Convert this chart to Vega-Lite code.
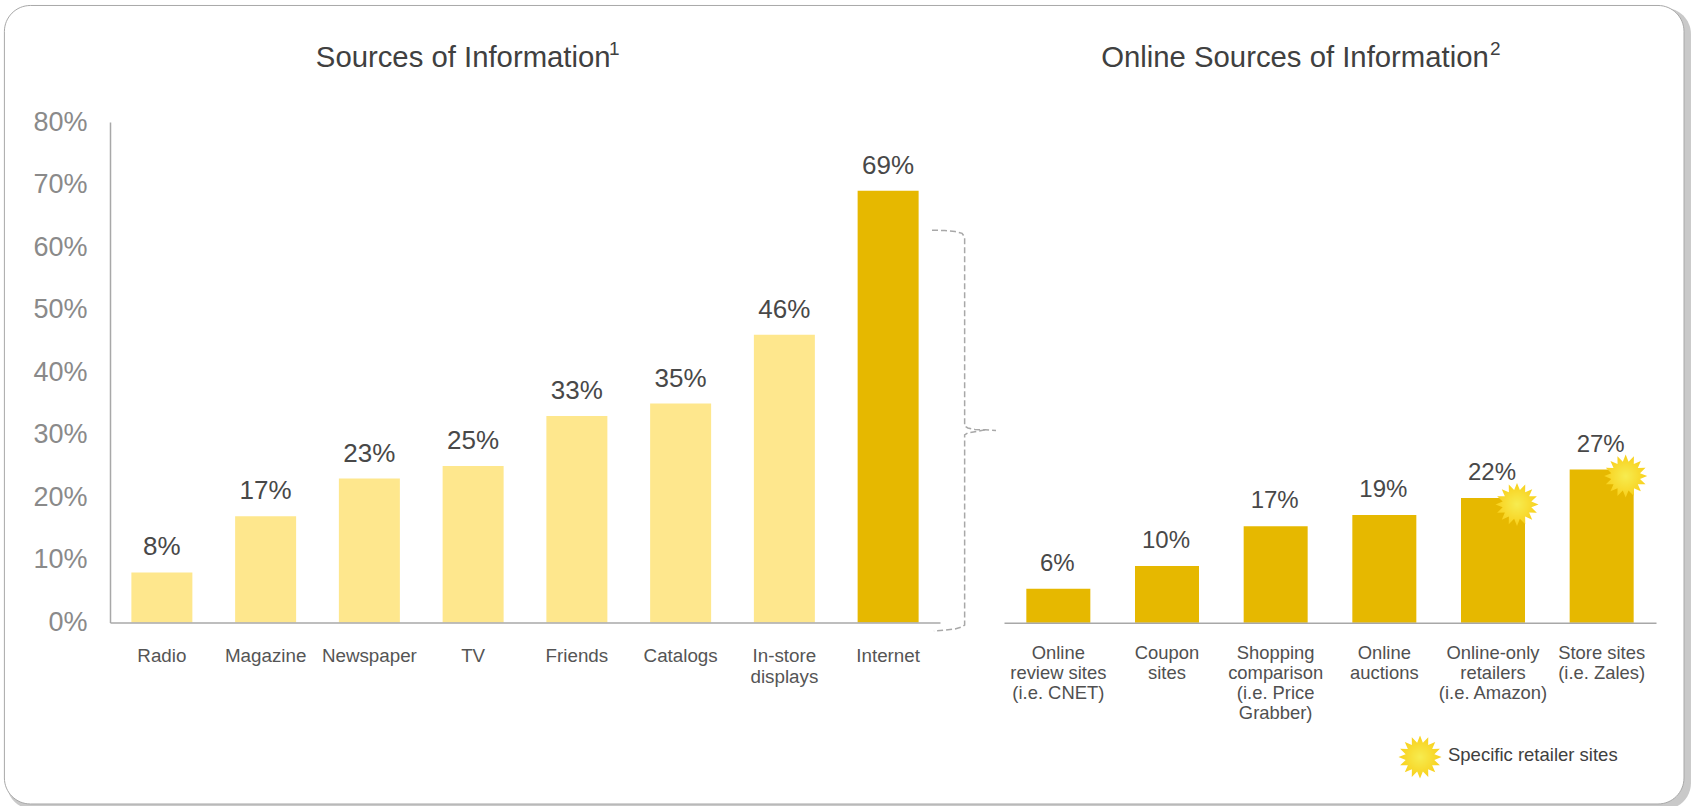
{
  "$schema": "https://vega.github.io/schema/vega-lite/v6.json",
  "width": 1694,
  "height": 806,
  "padding": 0,
  "autosize": "none",
  "background": "white",
  "config": {"font": "Liberation Sans", "view": {"stroke": null}},
  "datasets": {
    "sources": [
      {"source": "Radio", "share": 0.08, "channel": "Offline"},
      {"source": "Magazine", "share": 0.17, "channel": "Offline"},
      {"source": "Newspaper", "share": 0.23, "channel": "Offline"},
      {"source": "TV", "share": 0.25, "channel": "Offline"},
      {"source": "Friends", "share": 0.33, "channel": "Offline"},
      {"source": "Catalogs", "share": 0.35, "channel": "Offline"},
      {"source": "In-store|displays", "share": 0.46, "channel": "Offline"},
      {"source": "Internet", "share": 0.69, "channel": "Online"}
    ],
    "online": [
      {"source": "Online|review sites|(i.e. CNET)", "share": 0.06, "retailer": false},
      {"source": "Coupon|sites", "share": 0.10, "retailer": false},
      {"source": "Shopping|comparison|(i.e. Price|Grabber)", "share": 0.17, "retailer": false},
      {"source": "Online|auctions", "share": 0.19, "retailer": false},
      {"source": "Online-only|retailers|(i.e. Amazon)", "share": 0.22, "retailer": true},
      {"source": "Store sites|(i.e. Zales)", "share": 0.27, "retailer": true}
    ],
    "brace": [
      {"part": "upper", "step": 1, "across": 0, "pct": 0.627},
      {"part": "upper", "step": 2, "across": 0.2, "pct": 0.6266},
      {"part": "upper", "step": 3, "across": 0.36, "pct": 0.625},
      {"part": "upper", "step": 4, "across": 0.47, "pct": 0.622},
      {"part": "upper", "step": 5, "across": 0.51, "pct": 0.616},
      {"part": "upper", "step": 6, "across": 0.51, "pct": 0.314},
      {"part": "upper", "step": 7, "across": 0.56, "pct": 0.311},
      {"part": "upper", "step": 8, "across": 0.67, "pct": 0.3085},
      {"part": "upper", "step": 9, "across": 0.83, "pct": 0.308},
      {"part": "upper", "step": 10, "across": 1, "pct": 0.307},
      {"part": "lower", "step": 1, "across": 0.83, "pct": 0.308},
      {"part": "lower", "step": 2, "across": 0.67, "pct": 0.305},
      {"part": "lower", "step": 3, "across": 0.56, "pct": 0.303},
      {"part": "lower", "step": 4, "across": 0.51, "pct": 0.3},
      {"part": "lower", "step": 5, "across": 0.51, "pct": -0.004},
      {"part": "lower", "step": 6, "across": 0.47, "pct": -0.007},
      {"part": "lower", "step": 7, "across": 0.36, "pct": -0.0104},
      {"part": "lower", "step": 8, "across": 0.2, "pct": -0.012},
      {"part": "lower", "step": 9, "across": 0.03, "pct": -0.0136}
    ]
  },
  "resolve": {"scale": {"x": "independent", "y": "independent", "color": "independent"}},
  "layer": [
    {
      "description": "Panel drop shadow",
      "data": {"values": [{"panel": "shadow"}]},
      "mark": {"type": "rect", "fill": "#c9c9c9", "cornerRadius": 26},
      "encoding": {
        "x": {"datum": 0.004, "type": "quantitative", "scale": {"domain": [0, 1]}, "axis": null},
        "x2": {"datum": 0.9982},
        "y": {"datum": 0.99, "type": "quantitative", "scale": {"domain": [0, 1]}, "axis": null},
        "y2": {"datum": -0.004}
      }
    },
    {
      "description": "Rounded panel",
      "data": {"values": [{"panel": "frame"}]},
      "mark": {"type": "rect", "fill": "white", "stroke": "#a8a8a8", "strokeWidth": 1, "cornerRadius": 26},
      "encoding": {
        "x": {"datum": 0.0026, "type": "quantitative", "scale": {"domain": [0, 1]}, "axis": null},
        "x2": {"datum": 0.9941},
        "y": {"datum": 0.9932, "type": "quantitative", "scale": {"domain": [0, 1]}, "axis": null},
        "y2": {"datum": 0.0025}
      }
    },
    {
      "description": "Sources of information bars",
      "data": {"name": "sources"},
      "mark": {"type": "bar", "size": 61},
      "encoding": {
        "x": {
          "field": "source", "type": "nominal", "sort": null,
          "scale": {"range": [110, 940]},
          "axis": {
            "orient": "bottom", "offset": -183.5, "title": null, "ticks": false, "zindex": 1,
            "domainColor": "#a8a8a8", "domainWidth": 1.5,
            "labelAngle": 0, "labelFontSize": 18.8, "labelColor": "#555555", "labelPadding": 24,
            "labelLineHeight": 21, "labelLimit": 300, "labelOverlap": false,
            "labelBaseline": "top",
            "labelExpr": "split(datum.label, '|')"
          }
        },
        "y": {
          "field": "share", "type": "quantitative",
          "scale": {"domain": [0, 0.8], "range": [622.5, 122]},
          "axis": {
            "orient": "left", "offset": -110, "title": null, "ticks": false, "grid": false, "zindex": 1,
            "values": [0, 0.1, 0.2, 0.3, 0.4, 0.5, 0.6, 0.7, 0.8], "format": ".0%",
            "domainColor": "#a8a8a8", "domainWidth": 1.5,
            "labelFontSize": 27, "labelColor": "#8a8a8a", "labelPadding": 23
          }
        },
        "color": {
          "field": "channel", "type": "nominal", "legend": null,
          "scale": {"domain": ["Offline", "Online"], "range": ["#FEE78D", "#E6B800"]}
        }
      }
    },
    {
      "description": "Sources of information value labels",
      "data": {"name": "sources"},
      "mark": {"type": "text", "fontSize": 26, "color": "#484848", "baseline": "alphabetic", "dy": -17},
      "encoding": {
        "x": {"field": "source", "type": "nominal", "sort": null, "scale": {"range": [110, 940]}, "axis": null},
        "y": {"field": "share", "type": "quantitative", "scale": {"domain": [0, 0.8], "range": [622.5, 122]}, "axis": null},
        "text": {"field": "share", "format": ".0%"}
      }
    },
    {
      "description": "Online sources bars",
      "data": {"name": "online"},
      "mark": {"type": "bar", "size": 64, "color": "#E6B800"},
      "encoding": {
        "x": {
          "field": "source", "type": "nominal", "sort": null,
          "scale": {"range": [1004, 1656]},
          "axis": {
            "orient": "bottom", "offset": -183.3, "title": null, "ticks": false, "zindex": 1,
            "domainColor": "#a8a8a8", "domainWidth": 1.5,
            "labelAngle": 0, "labelFontSize": 18.4, "labelColor": "#505050", "labelPadding": 21,
            "labelLineHeight": 20, "labelLimit": 300, "labelOverlap": false,
            "labelBaseline": "top",
            "labelExpr": "split(datum.label, '|')"
          }
        },
        "y": {
          "field": "share", "type": "quantitative",
          "scale": {"domain": [0, 0.883], "range": [622.7, 122]},
          "axis": null
        }
      }
    },
    {
      "description": "Online sources value labels",
      "data": {"name": "online"},
      "mark": {"type": "text", "fontSize": 24, "color": "#484848", "baseline": "alphabetic", "dy": -18},
      "encoding": {
        "x": {"field": "source", "type": "nominal", "sort": null, "scale": {"range": [1003, 1655]}, "axis": null},
        "y": {"field": "share", "type": "quantitative", "scale": {"domain": [0, 0.883], "range": [622.7, 122]}, "axis": null},
        "text": {"field": "share", "format": ".0%"}
      }
    },
    {
      "description": "Sunburst badges on the retailer-site bars",
      "data": {"name": "online"},
      "transform": [{"filter": "datum.retailer"}],
      "mark": {
        "type": "point", "filled": true, "size": 1849, "xOffset": 25, "yOffset": 6.5, "opacity": 1,
        "shape": "M1,0L.667,.133L.924,.383L.565,.378L.707,.707L.378,.565L.383,.924L.133,.667L0,1L-.133,.667L-.383,.924L-.378,.565L-.707,.707L-.565,.378L-.924,.383L-.667,.133L-1,0L-.667,-.133L-.924,-.383L-.565,-.378L-.707,-.707L-.378,-.565L-.383,-.924L-.133,-.667L0,-1L.133,-.667L.383,-.924L.378,-.565L.707,-.707L.565,-.378L.924,-.383L.667,-.133Z",
        "fill": {"gradient": "radial", "x1": 0.5, "y1": 0.5, "x2": 0.5, "y2": 0.5, "r1": 0, "r2": 0.5, "stops": [{"offset": 0, "color": "#F7EC50"}, {"offset": 1, "color": "#F8D01C"}]}
      },
      "encoding": {
        "x": {"field": "source", "type": "nominal", "sort": null, "scale": {"domain": ["Online|review sites|(i.e. CNET)", "Coupon|sites", "Shopping|comparison|(i.e. Price|Grabber)", "Online|auctions", "Online-only|retailers|(i.e. Amazon)", "Store sites|(i.e. Zales)"], "range": [1003, 1655]}, "axis": null},
        "y": {"field": "share", "type": "quantitative", "scale": {"domain": [0, 0.883], "range": [622.7, 122]}, "axis": null}
      }
    },
    {
      "description": "Dashed brace from the Internet bar to the online breakdown",
      "data": {"name": "brace"},
      "mark": {"type": "line", "color": "#a8a8a8", "strokeWidth": 1.5, "strokeDash": [6, 3], "clip": false},
      "encoding": {
        "x": {"field": "across", "type": "quantitative", "scale": {"domain": [0, 1], "range": [932, 996]}, "axis": null},
        "y": {"field": "pct", "type": "quantitative", "scale": {"domain": [0, 0.8], "range": [622.5, 122]}, "axis": null},
        "detail": {"field": "part"},
        "order": {"field": "step", "type": "quantitative"}
      }
    },
    {
      "description": "Left panel heading",
      "data": {"values": [{"heading": "Sources of Information"}]},
      "mark": {"type": "text", "fontSize": 29.3, "color": "#404040", "align": "left", "baseline": "middle"},
      "encoding": {
        "x": {"datum": 0.248, "type": "quantitative", "scale": {"domain": [0, 1], "range": [110, 940]}, "axis": null},
        "y": {"datum": 0.902, "type": "quantitative", "scale": {"domain": [0, 0.8], "range": [622.5, 122]}, "axis": null},
        "text": {"field": "heading"}
      }
    },
    {
      "description": "Left panel heading footnote mark",
      "data": {"values": [{"note": "1"}]},
      "mark": {"type": "text", "fontSize": 19, "color": "#404040", "align": "left", "baseline": "middle"},
      "encoding": {
        "x": {"datum": 0.6012, "type": "quantitative", "scale": {"domain": [0, 1], "range": [110, 940]}, "axis": null},
        "y": {"datum": 0.917, "type": "quantitative", "scale": {"domain": [0, 0.8], "range": [622.5, 122]}, "axis": null},
        "text": {"field": "note"}
      }
    },
    {
      "description": "Right panel heading",
      "data": {"values": [{"heading": "Online Sources of Information"}]},
      "mark": {"type": "text", "fontSize": 29.3, "color": "#404040", "align": "left", "baseline": "middle"},
      "encoding": {
        "x": {"datum": 0.1506, "type": "quantitative", "scale": {"domain": [0, 1], "range": [1003, 1655]}, "axis": null},
        "y": {"datum": 0.902, "type": "quantitative", "scale": {"domain": [0, 0.8], "range": [622.5, 122]}, "axis": null},
        "text": {"field": "heading"}
      }
    },
    {
      "description": "Right panel heading footnote mark",
      "data": {"values": [{"note": "2"}]},
      "mark": {"type": "text", "fontSize": 19, "color": "#404040", "align": "left", "baseline": "middle"},
      "encoding": {
        "x": {"datum": 0.7469, "type": "quantitative", "scale": {"domain": [0, 1], "range": [1003, 1655]}, "axis": null},
        "y": {"datum": 0.917, "type": "quantitative", "scale": {"domain": [0, 0.8], "range": [622.5, 122]}, "axis": null},
        "text": {"field": "note"}
      }
    },
    {
      "description": "Key badge",
      "data": {"values": [{"key": "Specific retailer sites"}]},
      "mark": {
        "type": "point", "filled": true, "size": 1849, "opacity": 1,
        "shape": "M1,0L.667,.133L.924,.383L.565,.378L.707,.707L.378,.565L.383,.924L.133,.667L0,1L-.133,.667L-.383,.924L-.378,.565L-.707,.707L-.565,.378L-.924,.383L-.667,.133L-1,0L-.667,-.133L-.924,-.383L-.565,-.378L-.707,-.707L-.378,-.565L-.383,-.924L-.133,-.667L0,-1L.133,-.667L.383,-.924L.378,-.565L.707,-.707L.565,-.378L.924,-.383L.667,-.133Z",
        "fill": {"gradient": "radial", "x1": 0.5, "y1": 0.5, "x2": 0.5, "y2": 0.5, "r1": 0, "r2": 0.5, "stops": [{"offset": 0, "color": "#F7EC50"}, {"offset": 1, "color": "#F8D01C"}]}
      },
      "encoding": {
        "x": {"datum": 0.6396, "type": "quantitative", "scale": {"domain": [0, 1], "range": [1003, 1655]}, "axis": null},
        "y": {"datum": -0.237, "type": "quantitative", "scale": {"domain": [0, 0.883], "range": [622.7, 122]}, "axis": null}
      }
    },
    {
      "description": "Key label",
      "data": {"values": [{"key": "Specific retailer sites"}]},
      "mark": {"type": "text", "fontSize": 18.5, "color": "#404040", "align": "left", "baseline": "middle"},
      "encoding": {
        "x": {"datum": 0.6825, "type": "quantitative", "scale": {"domain": [0, 1], "range": [1003, 1655]}, "axis": null},
        "y": {"datum": -0.233, "type": "quantitative", "scale": {"domain": [0, 0.883], "range": [622.7, 122]}, "axis": null},
        "text": {"field": "key"}
      }
    }
  ]
}
